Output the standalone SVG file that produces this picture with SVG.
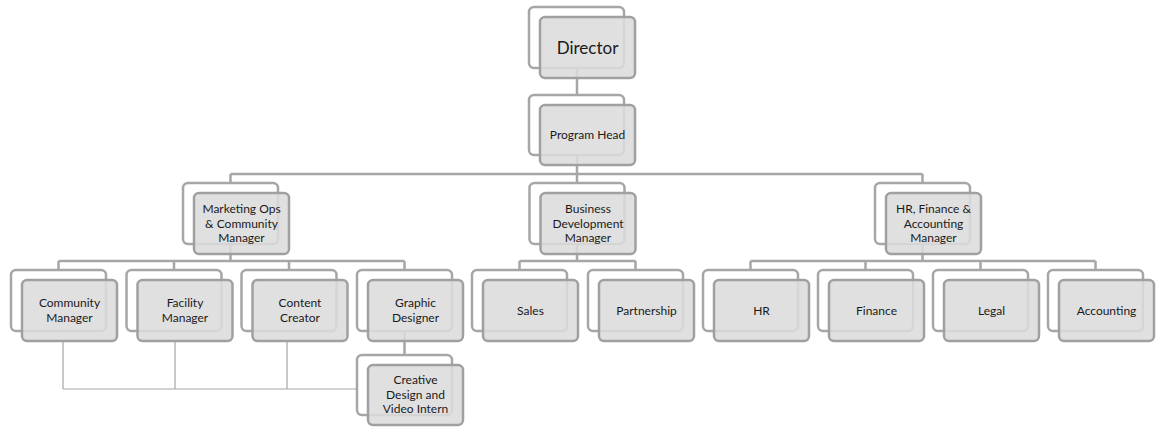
<svg xmlns="http://www.w3.org/2000/svg" width="1158" height="427" viewBox="0 0 1158 427">
<style>
.bk{fill:#fff;stroke:#a6a6a6;stroke-width:2.5}
.fr{fill:#dcdcdc;fill-opacity:0.88;stroke:#a0a0a0;stroke-width:2.5}
.c{fill:none;stroke:#a6a6a6;stroke-width:2.5}
.a{fill:none;stroke:#a6a6a6;stroke-width:1.2}
text{font-family:Lato,"Liberation Sans",sans-serif;font-size:12px;fill:#1a1a1a;text-anchor:middle}
</style>
<rect width="1158" height="427" fill="#fff"/>
<g id="connectors">
<path class="c" d="M577 68V95M577 155V174M230.5 174H922.5M230.5 174V183M577 174V183M922.5 174V183"/>
<path class="c" d="M230.5 244V261M58.5 261H404.5M58.5 261V270M174 261V270M289 261V270M404.5 261V270"/>
<path class="c" d="M577 244V261M519.5 261H635.5M519.5 261V270M635.5 261V270"/>
<path class="c" d="M922.5 244V261M750.5 261H1095.5M750.5 261V270M865.5 261V270M980.5 261V270M1095.5 261V270"/>
<path class="c" d="M404.5 331V355"/>
<path class="a" d="M63 342V389M175 342V389M287 342V389M63 389H357"/>
</g>
<g id="director"><rect class="bk" x="529" y="7" width="95" height="61" rx="5"/><rect class="fr" x="540" y="17" width="95" height="61" rx="5"/><text x="587.5" y="53.5" style="font-size:17px">Director</text></g>
<g id="program-head"><rect class="bk" x="529" y="95" width="95" height="60" rx="5"/><rect class="fr" x="540" y="105" width="95" height="60" rx="5"/><text x="587.5" y="139">Program Head</text></g>
<g id="marketing"><rect class="bk" x="183" y="183" width="95" height="61" rx="5"/><rect class="fr" x="194" y="193" width="95" height="61" rx="5"/><text x="241.5" y="213">Marketing Ops</text><text x="241.5" y="227.5">&amp; Community</text><text x="241.5" y="242">Manager</text></g>
<g id="bizdev"><rect class="bk" x="529.5" y="183" width="95" height="61" rx="5"/><rect class="fr" x="540.5" y="193" width="95" height="61" rx="5"/><text x="588" y="213">Business</text><text x="588" y="227.5">Development</text><text x="588" y="242">Manager</text></g>
<g id="hrfin"><rect class="bk" x="875" y="183" width="95" height="61" rx="5"/><rect class="fr" x="886" y="193" width="95" height="61" rx="5"/><text x="933.5" y="213">HR, Finance &amp;</text><text x="933.5" y="227.5">Accounting</text><text x="933.5" y="242">Manager</text></g>
<g id="community"><rect class="bk" x="11" y="270" width="95" height="61" rx="5"/><rect class="fr" x="22" y="280" width="95" height="61" rx="5"/><text x="69.5" y="307">Community</text><text x="69.5" y="321.5">Manager</text></g>
<g id="facility"><rect class="bk" x="126.5" y="270" width="95" height="61" rx="5"/><rect class="fr" x="137.5" y="280" width="95" height="61" rx="5"/><text x="185" y="307">Facility</text><text x="185" y="321.5">Manager</text></g>
<g id="content"><rect class="bk" x="241.5" y="270" width="95" height="61" rx="5"/><rect class="fr" x="252.5" y="280" width="95" height="61" rx="5"/><text x="300" y="307">Content</text><text x="300" y="321.5">Creator</text></g>
<g id="graphic"><rect class="bk" x="357" y="270" width="95" height="61" rx="5"/><rect class="fr" x="368" y="280" width="95" height="61" rx="5"/><text x="415.5" y="307">Graphic</text><text x="415.5" y="321.5">Designer</text></g>
<g id="intern"><rect class="bk" x="357" y="355" width="95" height="60" rx="5"/><rect class="fr" x="368" y="365" width="95" height="60" rx="5"/><text x="415.5" y="384">Creative</text><text x="415.5" y="398.5">Design and</text><text x="415.5" y="413">Video Intern</text></g>
<g id="sales"><rect class="bk" x="472" y="270" width="95" height="61" rx="5"/><rect class="fr" x="483" y="280" width="95" height="61" rx="5"/><text x="530.5" y="314.5">Sales</text></g>
<g id="partnership"><rect class="bk" x="588" y="270" width="95" height="61" rx="5"/><rect class="fr" x="599" y="280" width="95" height="61" rx="5"/><text x="646.5" y="314.5">Partnership</text></g>
<g id="hr"><rect class="bk" x="703" y="270" width="95" height="61" rx="5"/><rect class="fr" x="714" y="280" width="95" height="61" rx="5"/><text x="761.5" y="314.5">HR</text></g>
<g id="finance"><rect class="bk" x="818" y="270" width="95" height="61" rx="5"/><rect class="fr" x="829" y="280" width="95" height="61" rx="5"/><text x="876.5" y="314.5">Finance</text></g>
<g id="legal"><rect class="bk" x="933" y="270" width="95" height="61" rx="5"/><rect class="fr" x="944" y="280" width="95" height="61" rx="5"/><text x="991.5" y="314.5">Legal</text></g>
<g id="accounting"><rect class="bk" x="1048" y="270" width="95" height="61" rx="5"/><rect class="fr" x="1059" y="280" width="95" height="61" rx="5"/><text x="1106.5" y="314.5">Accounting</text></g>
</svg>
